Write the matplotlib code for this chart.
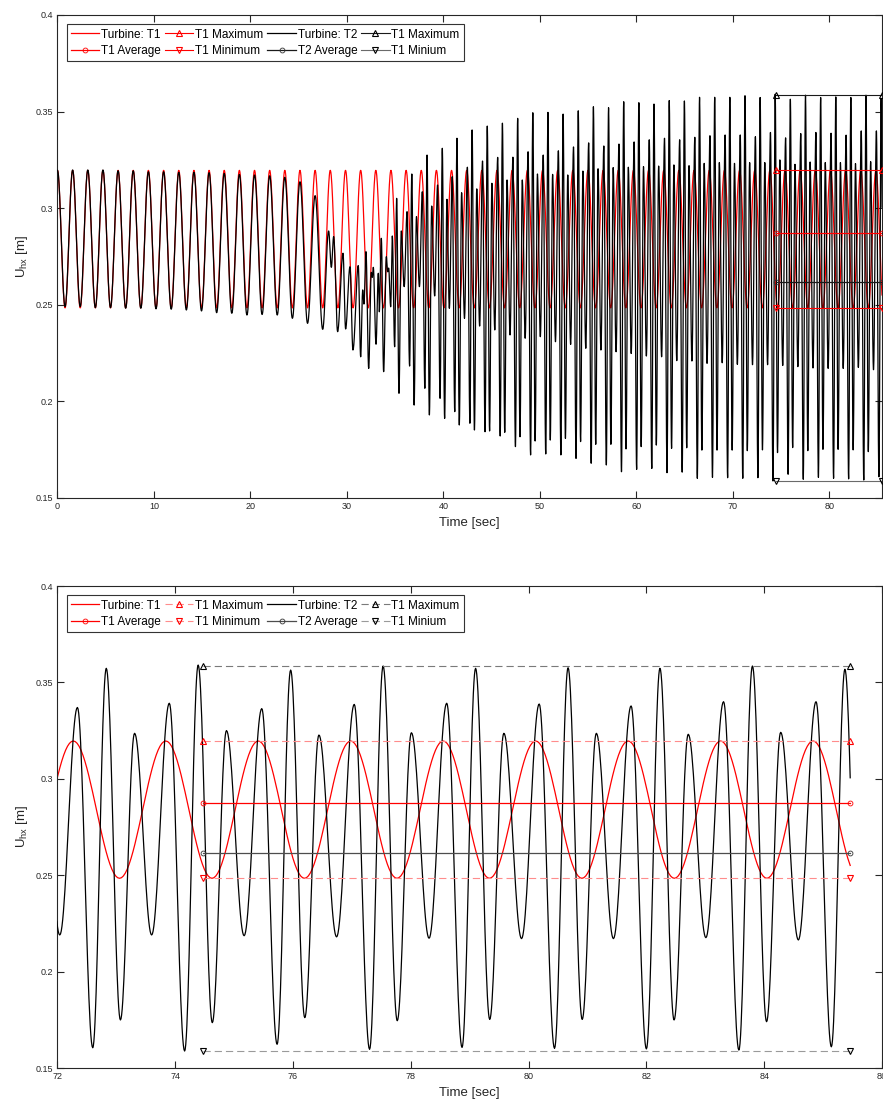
import numpy as np
import matplotlib
matplotlib.use("Agg")
import matplotlib.pyplot as plt

plt.rcParams['font.family'] = ['Liberation Sans', 'DejaVu Sans']
plt.rcParams['mathtext.fontset'] = 'custom'
plt.rcParams['mathtext.rm'] = 'Liberation Sans'
plt.rcParams['mathtext.it'] = 'Liberation Sans'

# ---------------- data ----------------
T_END = 85.46

# Turbine T1: times of the maxima, max / min level
T1_PEAK_T = [0.01, 1.58, 3.15, 4.72, 6.29, 7.86, 9.43, 11.01, 12.58, 14.15,
             15.72, 17.29, 18.86, 20.43, 22.00, 23.57, 25.14, 26.71, 28.28, 29.86,
             31.43, 33.00, 34.57, 36.14, 37.71, 39.28, 40.85, 42.42, 43.99, 45.56,
             47.13, 48.71, 50.28, 51.85, 53.42, 54.99, 56.56, 58.13, 59.70, 61.27,
             62.84, 64.41, 65.98, 67.56, 69.13, 70.70, 72.27, 73.84, 75.41, 76.98,
             78.55, 80.12, 81.69, 83.26, 84.83]
T1_HI = 0.3196
T1_LO = 0.2484

# Turbine T2, phase A (follows T1): maxima at T1 peak times, minima at T1 troughs
T2_A_MAX = [0.3196, 0.3198, 0.3198, 0.3198, 0.3194, 0.3194, 0.3189, 0.3189, 0.3186,
            0.3186, 0.3184, 0.3180, 0.3175, 0.3172, 0.3168, 0.3160, 0.3137, 0.3065]
T2_A_MIN = [0.2491, 0.2491, 0.2485, 0.2485, 0.2482, 0.2482, 0.2479, 0.2477, 0.2473,
            0.2468, 0.2459, 0.2456, 0.2447, 0.2450, 0.2447, 0.2430, 0.2404, 0.2373]

# Turbine T2, phase B (transition): extrema times and values
T2_B_T = [28.11, 28.39, 28.63, 29.04, 29.60, 29.87, 30.32, 30.63, 31.18, 31.43,
          31.64, 31.77, 31.98, 32.26, 32.53, 32.63, 32.74, 33.02, 33.26, 33.36,
          33.57, 33.81, 34.09, 34.23, 34.33, 34.54, 34.71, 34.95, 35.16, 35.40, 35.64]
T2_B_V = [0.2882, 0.2694, 0.2853, 0.2361, 0.2767, 0.2375, 0.2697, 0.2266, 0.2703, 0.2231,
          0.2577, 0.2504, 0.2775, 0.2171, 0.2668, 0.2642, 0.2694, 0.2296, 0.2663, 0.2464,
          0.2844, 0.2154, 0.2749, 0.2671, 0.2690, 0.2490, 0.2856, 0.2283, 0.3051, 0.2042, 0.2882]

# Turbine T2, phase C: one group of six extrema per T1 cycle
CYC_START = [36.24, 37.82, 39.40, 40.92, 42.49, 44.06, 45.63, 47.21, 48.78, 50.35,
             51.92, 53.49, 55.06, 56.63, 58.20, 59.77, 61.34, 62.92, 64.49, 66.06,
             67.63, 69.20, 70.77, 72.34, 73.90, 75.47, 77.04, 78.61, 80.18, 81.74,
             83.31, 84.88]
CYC_OFFSET = [-0.30, 0.0, 0.26, 0.49, 0.73, 0.97]   # shallow, med, deep, big, mid, small
C_SHALLOW = [0.2594, 0.2594, 0.2546, 0.2482, 0.2430, 0.2390, 0.2370, 0.2344, 0.2327, 0.2335,
             0.2309, 0.2295, 0.2275, 0.2266, 0.2257, 0.2248, 0.2235, 0.2231, 0.2211, 0.2209,
             0.2197, 0.2200, 0.2192, 0.2190, 0.2190, 0.2186, 0.2180, 0.2173, 0.2171, 0.2171,
             0.2176, 0.2164]
C_MED = [0.2982, 0.3085, 0.3120, 0.3163, 0.3212, 0.3244, 0.3263, 0.3264, 0.3292, 0.3275,
         0.3297, 0.3317, 0.3338, 0.3322, 0.3332, 0.3343, 0.3354, 0.3362, 0.3354, 0.3367,
         0.3375, 0.3379, 0.3379, 0.3370, 0.3392, 0.3364, 0.3386, 0.3392, 0.3388, 0.3378,
         0.3400, 0.3400]
C_DEEP = [0.2183, 0.2068, 0.2016, 0.1947, 0.1887, 0.1843, 0.1821, 0.1766, 0.1723, 0.1728,
          0.1723, 0.1705, 0.1680, 0.1671, 0.1636, 0.1648, 0.1653, 0.1631, 0.1634, 0.1602,
          0.1607, 0.1605, 0.1602, 0.1605, 0.1588, 0.1623, 0.1597, 0.1607, 0.1602, 0.1599,
          0.1593, 0.1610]
C_BIG = [0.3177, 0.3275, 0.3310, 0.3362, 0.3405, 0.3425, 0.3440, 0.3465, 0.3494, 0.3496,
         0.3487, 0.3504, 0.3525, 0.3520, 0.3551, 0.3546, 0.3539, 0.3557, 0.3555, 0.3574,
         0.3574, 0.3574, 0.3582, 0.3573, 0.3590, 0.3564, 0.3585, 0.3573, 0.3576, 0.3573,
         0.3585, 0.3568]
C_MID = [0.1981, 0.1930, 0.1912, 0.1878, 0.1852, 0.1847, 0.1840, 0.1817, 0.1795, 0.1800,
         0.1809, 0.1792, 0.1778, 0.1778, 0.1754, 0.1766, 0.1774, 0.1757, 0.1760, 0.1748,
         0.1748, 0.1748, 0.1745, 0.1749, 0.1735, 0.1761, 0.1745, 0.1752, 0.1752, 0.1749,
         0.1740, 0.1745]
C_SMALL = [0.2956, 0.3011, 0.3046, 0.3080, 0.3100, 0.3129, 0.3146, 0.3146, 0.3177, 0.3175,
           0.3172, 0.3192, 0.3204, 0.3210, 0.3212, 0.3215, 0.3218, 0.3224, 0.3220, 0.3232,
           0.3236, 0.3232, 0.3236, 0.3236, 0.3250, 0.3227, 0.3239, 0.3236, 0.3236, 0.3231,
           0.3241, 0.3236]

# statistics over the last window
STAT_T = [74.48, 85.46]
T1_MAX, T1_AVG, T1_MIN = 0.3196, 0.2873, 0.2484
T2_MAX, T2_AVG, T2_MIN = 0.3585, 0.2617, 0.1588

LABELS = ["Turbine: T1", "T1 Maximum", "Turbine: T2", "T1 Maximum",
          "T1 Average", "T1 Minimum", "T2 Average", "T1 Minium"]

# ---------------- build curves through the extrema ----------------
def cos_path(ts, vs, t_end, n=24):
    ts = np.asarray(ts, float)
    vs = np.asarray(vs, float)
    s = np.linspace(0, 1, n, endpoint=False)
    w = (1 - np.cos(np.pi * s)) / 2
    tt = [ts[i] + (ts[i + 1] - ts[i]) * s for i in range(len(ts) - 1)]
    vv = [vs[i] + (vs[i + 1] - vs[i]) * w for i in range(len(ts) - 1)]
    t = np.concatenate(tt + [[ts[-1]]])
    v = np.concatenate(vv + [[vs[-1]]])
    ve = np.interp(t_end, t, v)
    m = t < t_end
    return np.append(t[m], t_end), np.append(v[m], ve)

pk = np.array(T1_PEAK_T)
tr = np.append((pk[:-1] + pk[1:]) / 2, pk[-1] + (pk[-1] - pk[-2]) / 2)
t1_t = np.ravel(np.column_stack([pk, tr]))
t1_v = np.ravel(np.column_stack([np.full(len(pk), T1_HI), np.full(len(tr), T1_LO)]))
T1_t, T1_v = cos_path(t1_t, t1_v, T_END)

na = len(T2_A_MAX)
a_t = np.ravel(np.column_stack([pk[:na], tr[:na]]))
a_v = np.ravel(np.column_stack([T2_A_MAX, T2_A_MIN]))
c_t, c_v = [], []
groups = [C_SHALLOW, C_MED, C_DEEP, C_BIG, C_MID, C_SMALL]
for i, s0 in enumerate(CYC_START):
    for off, g in zip(CYC_OFFSET, groups):
        c_t.append(s0 + off)
        c_v.append(g[i])
t2_t = np.concatenate([a_t, T2_B_T, c_t])
t2_v = np.concatenate([a_v, T2_B_V, c_v])
T2_t, T2_v = cos_path(t2_t, t2_v, T_END)

# ---------------- figure ----------------
W, H = 883, 1100
fig = plt.figure(figsize=(W / 100, H / 100), dpi=100)
L, R = 57.4, 882
ax1 = fig.add_axes([L / W, 1 - 498 / H, (R - L) / W, (498 - 15) / H])
ax2 = fig.add_axes([L / W, 1 - 1068 / H, (R - L) / W, (1068 - 586) / H])

RED = '#ff0000'

def draw(ax, bottom):
    h_t1, = ax.plot(T1_t, T1_v, color=RED, lw=0.9, zorder=2)
    ls_mm = (0, (6.5, 3.6)) if bottom else '-'
    c_t1mm = '#ff8c8c' if bottom else RED
    c_t2max = '#7a7a7a' if bottom else '#1a1a1a'
    c_t2min = '#9a9a9a' if bottom else '#6a6a6a'
    c_t2avg = '#4d4d4d' if bottom else '#1a1a1a'
    h_t1max, = ax.plot(STAT_T, [T1_MAX] * 2, ls=ls_mm, color=c_t1mm, lw=0.8, marker='^',
                       ms=5, mfc='none', mec=RED, mew=0.8, zorder=4)
    h_t2, = ax.plot(T2_t, T2_v, color='black', lw=0.9, zorder=3)
    h_t2max, = ax.plot(STAT_T, [T2_MAX] * 2, ls=ls_mm, color=c_t2max, lw=0.8, marker='^',
                       ms=5, mfc='none', mec='black', mew=0.8, zorder=4)
    h_t1avg, = ax.plot(STAT_T, [T1_AVG] * 2, ls='-', color=RED, lw=0.9, marker='o',
                       ms=3.5, mfc='none', mec=RED, mew=0.6, zorder=4)
    h_t1min, = ax.plot(STAT_T, [T1_MIN] * 2, ls=ls_mm, color=c_t1mm, lw=0.8, marker='v',
                       ms=5, mfc='none', mec=RED, mew=0.8, zorder=4)
    h_t2avg, = ax.plot(STAT_T, [T2_AVG] * 2, ls='-', color=c_t2avg, lw=0.9, marker='o',
                       ms=3.5, mfc='none', mec='#333333', mew=0.6, zorder=4)
    h_t2min, = ax.plot(STAT_T, [T2_MIN] * 2, ls=ls_mm, color=c_t2min, lw=0.8, marker='v',
                       ms=5, mfc='none', mec='black', mew=0.8, zorder=4)
    handles = [h_t1, h_t1avg, h_t1max, h_t1min, h_t2, h_t2avg, h_t2max, h_t2min]
    labels = [LABELS[0], LABELS[4], LABELS[1], LABELS[5], LABELS[2], LABELS[6], LABELS[3], LABELS[7]]
    leg = ax.legend(handles, labels, loc='upper left', ncol=4, numpoints=1, fontsize=8.5,
                    frameon=True, fancybox=False, edgecolor='#333333', framealpha=1,
                    borderaxespad=0.8, handlelength=2.4, handletextpad=0.15,
                    columnspacing=0.35, labelspacing=0.35, borderpad=0.35)
    leg.get_frame().set_linewidth(0.8)
    leg.set_zorder(10)

    ax.set_ylim(0.15, 0.4)
    ax.set_yticks([0.15, 0.2, 0.25, 0.3, 0.35, 0.4])
    ax.set_yticklabels(['0.15', '0.2', '0.25', '0.3', '0.35', '0.4'])
    if bottom:
        ax.set_xlim(72, 86)
        ax.set_xticks(range(72, 87, 2))
    else:
        ax.set_xlim(0, T_END)
        ax.set_xticks(range(0, 81, 10))
    ax.tick_params(direction='in', length=5, width=0.8, top=True, right=True,
                   labelsize=6.5, colors='#262626', pad=3)
    for sp in ax.spines.values():
        sp.set_linewidth(0.8)
        sp.set_color('#262626')
    ax.set_xlabel('Time [sec]', fontsize=9.5, color='#262626', labelpad=4)
    ax.set_ylabel('U$_{hx}$ [m]', fontsize=9.5, color='#262626', labelpad=4)

draw(ax1, False)
draw(ax2, True)

fig.savefig('out.png', dpi=100)
